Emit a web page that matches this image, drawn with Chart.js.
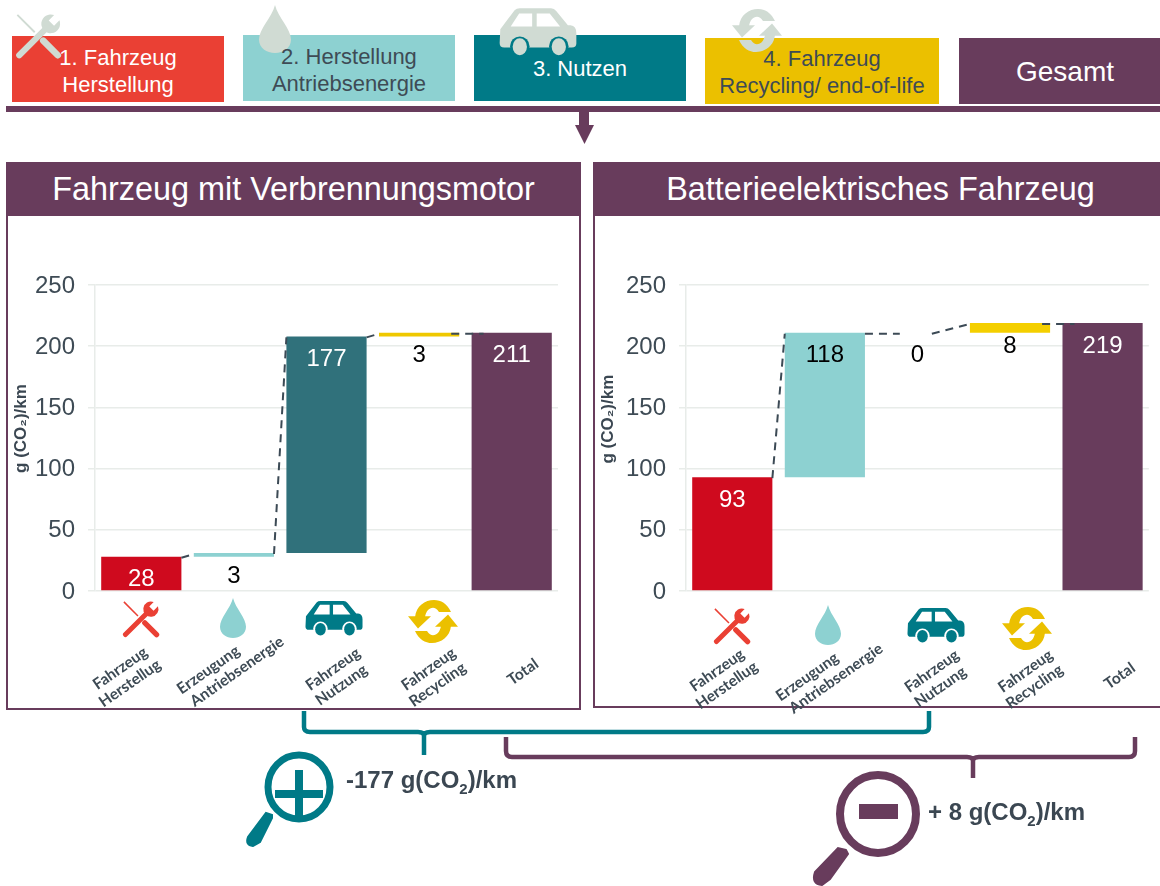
<!DOCTYPE html>
<html lang="de"><head><meta charset="utf-8">
<script src="https://cdn.jsdelivr.net/npm/chart.js@4"></script>
<style>
html,body{margin:0;padding:0;background:#fff;width:1160px;height:886px;overflow:hidden;font-family:"Liberation Sans",Arial,sans-serif}
.a{position:absolute}
.box{position:absolute;z-index:1}
.t{position:absolute;z-index:3;text-align:center;line-height:27px;font-size:22px;display:flex;align-items:center;justify-content:center}
.ic{position:absolute;z-index:2;overflow:visible}
.panel{position:absolute;border:2px solid #683c5c;box-sizing:border-box;background:#fff}
.head{position:absolute;background:#683c5c;color:#fff;font-size:32.4px;display:flex;align-items:center;justify-content:center;z-index:1}
canvas{position:absolute;z-index:2}
.note{position:absolute;z-index:4;font-weight:bold;font-size:24px;color:#3b4752;white-space:nowrap}
.note sub{font-size:15px;line-height:0}
</style></head><body>
<svg width="0" height="0" style="position:absolute">
<defs>
<symbol id="tools" viewBox="0 0 100 100" overflow="visible">
  <path d="M83.3,5.4 L71.8,17 L83.1,28.3 L94.6,16.7 A20,20 0 1 1 83.3,5.4 Z" fill="currentColor"/>
  <line x1="9" y1="91" x2="68" y2="32" stroke="currentColor" stroke-width="13" stroke-linecap="round"/>
  <line x1="5" y1="5" x2="42" y2="42" stroke="currentColor" stroke-width="4"/>
  <line x1="60" y1="60" x2="91" y2="91" stroke="currentColor" stroke-width="14" stroke-linecap="round"/>
</symbol>
<symbol id="drop" viewBox="0 0 100 100" preserveAspectRatio="none">
  <path d="M50 0 C60 26 100 50 100 72 C100 90 76 100 50 100 C24 100 0 90 0 72 C0 50 40 26 50 0Z" fill="currentColor"/>
</symbol>
<mask id="carMask" maskUnits="userSpaceOnUse" x="0" y="0" width="120" height="80">
  <rect width="120" height="80" fill="#fff"/>
  <path d="M18 30 L31 10 L51 10 L51 30 Z M58 10 L78 10 L94 30 L58 30 Z" fill="#000"/>
  <circle cx="32" cy="60" r="15" fill="#000"/><circle cx="92" cy="60" r="15" fill="#000"/>
</mask>
<symbol id="car" viewBox="0 0 120 75" preserveAspectRatio="none">
  <path mask="url(#carMask)" d="M2 34 L24 5 Q27 2 32 2 L80 2 Q85 2 88 6 L106 28 L110 28 Q119 29 119 40 L119 56 Q119 62 112 62 L8 62 Q1 62 1 55 Z" fill="currentColor"/>
  <ellipse cx="32" cy="61" rx="11" ry="13" fill="currentColor"/><ellipse cx="92" cy="61" rx="11" ry="13" fill="currentColor"/>
</symbol>
<symbol id="recycle" viewBox="0 0 100 100" preserveAspectRatio="none" overflow="visible">
  <path d="M14 40 C16 14 34 0 52 0 C66 0 78 8 86 28 L62 28 C58 21 54 18 50 18 C42 18 36 26 34 40 Z" fill="currentColor"/>
  <path d="M0 38 L46 38 L20 66 Z" fill="currentColor"/>
  <g transform="rotate(180 50 50)">
    <path d="M14 40 C16 14 34 0 52 0 C66 0 78 8 86 28 L62 28 C58 21 54 18 50 18 C42 18 36 26 34 40 Z" fill="currentColor"/>
    <path d="M0 38 L46 38 L20 66 Z" fill="currentColor"/>
  </g>
</symbol>
</defs></svg>

<div class="box" style="left:12px;top:36px;width:212px;height:66px;background:#ea4034"></div>
<div class="box" style="left:243px;top:35px;width:212px;height:66px;background:#8dd1d1"></div>
<div class="box" style="left:474px;top:35px;width:212px;height:66px;background:#007a87"></div>
<div class="box" style="left:705px;top:38px;width:234px;height:66px;background:#ebc000"></div>
<div class="box" style="left:959px;top:38px;width:201px;height:66px;background:#683c5c"></div>

<svg class="ic" style="left:15px;top:12px;color:#d0dbd3" width="47" height="48"><use href="#tools" width="47" height="48"/></svg>
<svg class="ic" style="left:259px;top:5px;color:#d0dbd3" width="32" height="48"><use href="#drop" width="32" height="48"/></svg>
<svg class="ic" style="left:499px;top:7px;color:#d0dbd3" width="78" height="49"><use href="#car" width="78" height="49"/></svg>
<svg class="ic" style="left:732px;top:9px;color:#d0dbd3" width="50" height="43"><use href="#recycle" width="50" height="43"/></svg>

<div class="t" style="left:12px;top:38px;width:212px;height:66px;color:#fff">1. Fahrzeug<br>Herstellung</div>
<div class="t" style="left:243px;top:37px;width:212px;height:66px;color:#3e4b55">2. Herstellung<br>Antriebsenergie</div>
<div class="t" style="left:474px;top:35px;width:212px;height:66px;color:#fff">3. Nutzen</div>
<div class="t" style="left:705px;top:39px;width:234px;height:66px;color:#3e4b55">4. Fahrzeug<br>Recycling/ end-of-life</div>
<div class="t" style="left:959px;top:38px;width:212px;height:66px;color:#fff;font-size:28px">Gesamt</div>

<div class="a" style="left:6px;top:106px;width:1154px;height:6px;background:#683c5c"></div>
<svg class="a" style="left:570px;top:112px" width="30" height="34"><path d="M9 0 H19 V13 H24 L14.500 32 L5 13 H9 Z" fill="#683c5c"/></svg>

<div class="panel" style="left:6px;top:162px;width:575px;height:548px"></div>
<div class="head" style="left:6px;top:162px;width:575px;height:54px">Fahrzeug mit Verbrennungsmotor</div>
<div class="panel" style="left:593px;top:162px;width:580px;height:546px"></div>
<div class="head" style="left:593px;top:162px;width:575px;height:54px">Batterieelektrisches Fahrzeug</div>

<canvas id="chartL" width="571" height="500" style="left:9px;top:219px;width:571px;height:500px"></canvas>
<canvas id="chartR" width="565" height="502" style="left:596px;top:219px;width:565px;height:502px"></canvas>

<svg class="ic" style="left:122px;top:600px;color:#ea4034;z-index:3" width="38" height="38"><use href="#tools" width="38" height="38"/></svg>
<svg class="ic" style="left:220px;top:598px;color:#8dd1d1;z-index:3" width="26" height="40"><use href="#drop" width="26" height="40"/></svg>
<svg class="ic" style="left:305px;top:600px;color:#007a87;z-index:3" width="58" height="36"><use href="#car" width="58" height="36"/></svg>
<svg class="ic" style="left:408px;top:600px;color:#ebc000;z-index:3" width="50" height="43"><use href="#recycle" width="50" height="43"/></svg>
<svg class="ic" style="left:713px;top:607px;color:#ea4034;z-index:3" width="38" height="38"><use href="#tools" width="38" height="38"/></svg>
<svg class="ic" style="left:815px;top:605px;color:#8dd1d1;z-index:3" width="26" height="40"><use href="#drop" width="26" height="40"/></svg>
<svg class="ic" style="left:907px;top:607px;color:#007a87;z-index:3" width="58" height="36"><use href="#car" width="58" height="36"/></svg>
<svg class="ic" style="left:1002px;top:607px;color:#ebc000;z-index:3" width="50" height="43"><use href="#recycle" width="50" height="43"/></svg>

<svg class="a" style="left:0;top:700px;z-index:4" width="1160" height="186">
  <path d="M304 11 V27 Q304 32 310 32 H418 Q424 32 424 36 V55 M424 36 Q424 32 430 32 H923 Q929 32 929 27 V11" fill="none" stroke="#007a87" stroke-width="4.500"/>
  <path d="M506 37 V51 Q506 57 512 57 H967 Q973 57 973 61 V78 M973 61 Q973 57 979 57 H1129 Q1135 57 1135 51 V37" fill="none" stroke="#683c5c" stroke-width="4.500"/>
  <ellipse cx="299" cy="87" rx="31" ry="32" fill="none" stroke="#007a87" stroke-width="7"/>
  <path d="M295 70 H303 V116 H295 Z M275 90 H323 V98 H275 Z" fill="#007a87"/>
  <path d="M272 115 L266 113 L248 137 Q245 145 253 146 L260 142 L272 118 Z" fill="#007a87" stroke="#007a87" stroke-width="2"/>
  <ellipse cx="878" cy="114" rx="38" ry="39" fill="none" stroke="#683c5c" stroke-width="8"/>
  <rect x="859" y="104" width="39" height="15" fill="#683c5c"/>
  <path d="M846 150 L838 148 L815 172 Q811 184 822 185 L830 179 L848 154 Z" fill="#683c5c" stroke="#683c5c" stroke-width="2"/>
</svg>
<div class="note" style="left:346px;top:766px">-177 g(CO<sub>2</sub>)/km</div>
<div class="note" style="left:928px;top:798px">+ 8 g(CO<sub>2</sub>)/km</div>

<script>
const categories = [["Fahrzeug ","Herstellug"],["Erzeugung           ","Antriebsenergie"],["Fahrzeug","Nutzung "],["Fahrzeug","Recycling"],"Total"];
const yTicks = [0,50,100,150,200,250];

const iceStart = [0,28,31,208,0];
const iceEnd   = [28,31,208,211,211];
const iceValues = [28,3,177,3,211];
const iceColors = ["#cf0a1e","#8dd1d1","#30717b","#efc800","#683c5c"];

const bevStart = [0,93,211,211,0];
const bevEnd   = [93,211,211,219,219];
const bevValues = [93,118,0,8,219];
const bevColors = ["#cf0a1e","#8dd1d1","#30717b","#f4cf00","#683c5c"];

const labelColors = ["#ffffff","#000000","#ffffff","#000000","#ffffff"];
const bevLabelColors = ["#ffffff","#000000","#000000","#000000","#ffffff"];

// nudges of the rotated category labels, per chart
const iceLabelShift = [[7.5,-3],[38,-26],[32,0],[35,0],[25,11]];
const bevLabelShift = [[13.5,-3],[46,-21],[40,0],[41,0],[31,13]];

function pairs(a,b){return a.map((v,i)=>[v,b[i]]);}

const shiftLabels = {
  id:'shiftLabels',
  afterUpdate(chart,args,opts){
    chart.scales.x.getLabelItems().forEach((it,i)=>{
      const t=it.options.translation;
      t[0]+=opts.shift[i][0];t[1]+=opts.shift[i][1];
    });
    chart.scales.y.getLabelItems().forEach(it=>{it.options.translation[1]+=1;});
  }
};

const waterfall = {
  id:'waterfall',
  afterDatasetsDraw(chart,args,opts){
    const ctx=chart.ctx, y=chart.scales.y, bars=chart.getDatasetMeta(0).data;
    const s=opts.start,e=opts.end;
    ctx.save();
    ctx.strokeStyle='#3c4a55';ctx.lineWidth=2;ctx.setLineDash([8,6]);
    for(let i=0;i<bars.length-1;i++){
      const a=bars[i],b=bars[i+1];
      let x1=a.x+a.width/2,x2=b.x-b.width/2,y1=y.getPixelForValue(e[i])+1,y2=y.getPixelForValue(e[i+1])+1;
      if(s[i]===e[i]) x1=a.x+a.width*0.18;
      if(s[i+1]===e[i+1]) x2=b.x-b.width*0.22;
      if(e[i]===e[i+1]&&s[i+1]!==e[i+1]){x1-=8;x2+=12;}
      ctx.beginPath();ctx.moveTo(x1,y1);ctx.lineTo(x2,y2);ctx.stroke();
    }
    ctx.setLineDash([]);
    ctx.font='24px "Liberation Sans"';ctx.textAlign='center';ctx.textBaseline='middle';
    bars.forEach((b,i)=>{
      ctx.fillStyle=opts.colors[i];
      ctx.fillText(String(opts.values[i]),b.x,y.getPixelForValue(e[i])+23);
    });
    ctx.restore();
  }
};

function build(id,start,end,colors,values,lblColors,axisWidth,padRight,xHeight,tickPad,shift,yTitle){
  return new Chart(document.getElementById(id),{
    type:'bar',
    data:{labels:categories,datasets:[{data:pairs(start,end),backgroundColor:colors,borderWidth:0,categoryPercentage:1,barPercentage:0.866}]},
    plugins:[waterfall,shiftLabels],
    options:{
      responsive:false,animation:false,
      layout:{padding:{left:0,right:padRight,top:66,bottom:0}},
      plugins:{legend:{display:false},tooltip:{enabled:false},title:{display:false},
        waterfall:{start,end,values,colors:lblColors},shiftLabels:{shift}},
      scales:{
        x:{grid:{display:false},border:{display:false},
           afterFit(s){s.height=xHeight;},
           ticks:{autoSkip:false,minRotation:35,maxRotation:35,padding:tickPad,color:'#3e4b55',
                  font:{family:'Lato',weight:'bold',size:15.5,lineHeight:1.15}}},
        y:{min:0,max:250,
           afterFit(s){s.width=axisWidth;},
           afterBuildTicks(s){s.ticks=yTicks.map(v=>({value:v}));},
           grid:{color:'#e8ece9',lineWidth:1.5,tickLength:7,drawTicks:true},
           border:{display:true,color:'#e8ece9',width:1.5},
           title:{display:true,text:yTitle,color:'#3b4752',padding:{top:2,bottom:0},font:{family:'Liberation Sans',weight:'bold',size:17}},
           ticks:{padding:13,color:'#3e4b55',font:{family:'Liberation Sans',size:24}}}
      }
    }
  });
}
build('chartL',iceStart,iceEnd,iceColors,iceValues,labelColors,86,22,128,45,iceLabelShift,'    g (CO₂)/km');
build('chartR',bevStart,bevEnd,bevColors,bevValues,bevLabelColors,90,12,130,47,bevLabelShift,'        g (CO₂)/km');
</script>
</body></html>
